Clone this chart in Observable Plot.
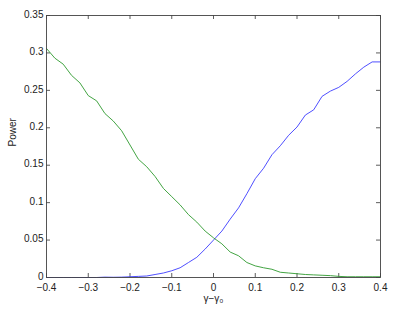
<!DOCTYPE html>
<html>
<head>
<meta charset="utf-8">
<script src="https://cdn.jsdelivr.net/npm/d3@7"></script>
<script src="https://cdn.jsdelivr.net/npm/@observablehq/plot@0.6"></script>
<style>
  body { margin: 0; background: #fff; }
  #chart svg { font-family: "Liberation Sans", Arial, sans-serif; }
</style>
</head>
<body>
<div id="chart"></div>
<script>
const gammaDiff = [-0.40,-0.38,-0.36,-0.34,-0.32,-0.30,-0.28,-0.26,-0.24,-0.22,-0.20,-0.18,-0.16,-0.14,-0.12,-0.10,-0.08,-0.06,-0.04,-0.02,0.00,0.02,0.04,0.06,0.08,0.10,0.12,0.14,0.16,0.18,0.20,0.22,0.24,0.26,0.28,0.30,0.32,0.34,0.36,0.38,0.40];
const powerBlue = [0,0,0,0,0,0,0,0.0005,0.0003,0.0005,0.001,0.0015,0.002,0.004,0.006,0.009,0.013,0.020,0.027,0.038,0.050,0.062,0.078,0.093,0.112,0.132,0.146,0.164,0.176,0.190,0.201,0.217,0.224,0.242,0.249,0.254,0.262,0.272,0.281,0.288,0.288];
const powerGreen = [0.306,0.293,0.285,0.270,0.260,0.243,0.236,0.219,0.209,0.196,0.177,0.158,0.148,0.135,0.119,0.108,0.097,0.084,0.074,0.062,0.053,0.045,0.034,0.029,0.020,0.0155,0.013,0.011,0.007,0.006,0.005,0.004,0.0035,0.003,0.0025,0.0015,0.001,0.001,0.001,0.001,0.001];
const xTicks = [-0.4,-0.3,-0.2,-0.1,0,0.1,0.2,0.3,0.4];
const yTicks = [0,0.05,0.1,0.15,0.2,0.25,0.3,0.35];
const xLabel = "γ−γ₀";
const yLabel = "Power";

const blueData = gammaDiff.map((x, i) => ({x, y: powerBlue[i]}));
const greenData = gammaDiff.map((x, i) => ({x, y: powerGreen[i]}));

const W = 393, H = 311, mL = 46, mR = 13, mT = 15, mB = 34;
const innerW = W - mL - mR, innerH = H - mT - mB;
const tk = 4;
const fmt = d => d === 0 ? "0" : String(d).replace("-", "−");

const chart = Plot.plot({
  width: W, height: H,
  marginLeft: mL, marginRight: mR, marginTop: mT, marginBottom: mB,
  style: {fontSize: "10px", color: "#222", background: "#fff"},
  x: {domain: [-0.4, 0.4]},
  y: {domain: [0, 0.35]},
  marks: [
    Plot.axisX({ticks: xTicks, tickSize: 0, tickPadding: 6, tickFormat: fmt, label: null, fontSize: 10}),
    Plot.axisY({ticks: yTicks, tickSize: 0, tickPadding: 3, dy: -1, tickFormat: fmt, label: null, fontSize: 10}),
    Plot.tickX(xTicks, {x: d => d, insetTop: innerH - tk, stroke: "#333", strokeWidth: 0.8}),
    Plot.tickX(xTicks, {x: d => d, insetBottom: innerH - tk, stroke: "#333", strokeWidth: 0.8}),
    Plot.tickY(yTicks, {y: d => d, insetRight: innerW - tk, stroke: "#333", strokeWidth: 0.8}),
    Plot.tickY(yTicks, {y: d => d, insetLeft: innerW - tk, stroke: "#333", strokeWidth: 0.8}),
    Plot.line(blueData, {x: "x", y: "y", stroke: "#3b3bff", strokeWidth: 0.9}),
    Plot.line(greenData, {x: "x", y: "y", stroke: "#2e9a2e", strokeWidth: 0.9}),
    Plot.frame({stroke: "#444", strokeWidth: 0.9}),
    Plot.text([xLabel], {frameAnchor: "bottom", dy: 24, text: d => d, fontSize: 10, fill: "#222"}),
    Plot.text([yLabel], {frameAnchor: "left", dx: -34, rotate: -90, text: d => d, fontSize: 10, fill: "#222"})
  ]
});
document.getElementById("chart").appendChild(chart);
</script>
</body>
</html>
